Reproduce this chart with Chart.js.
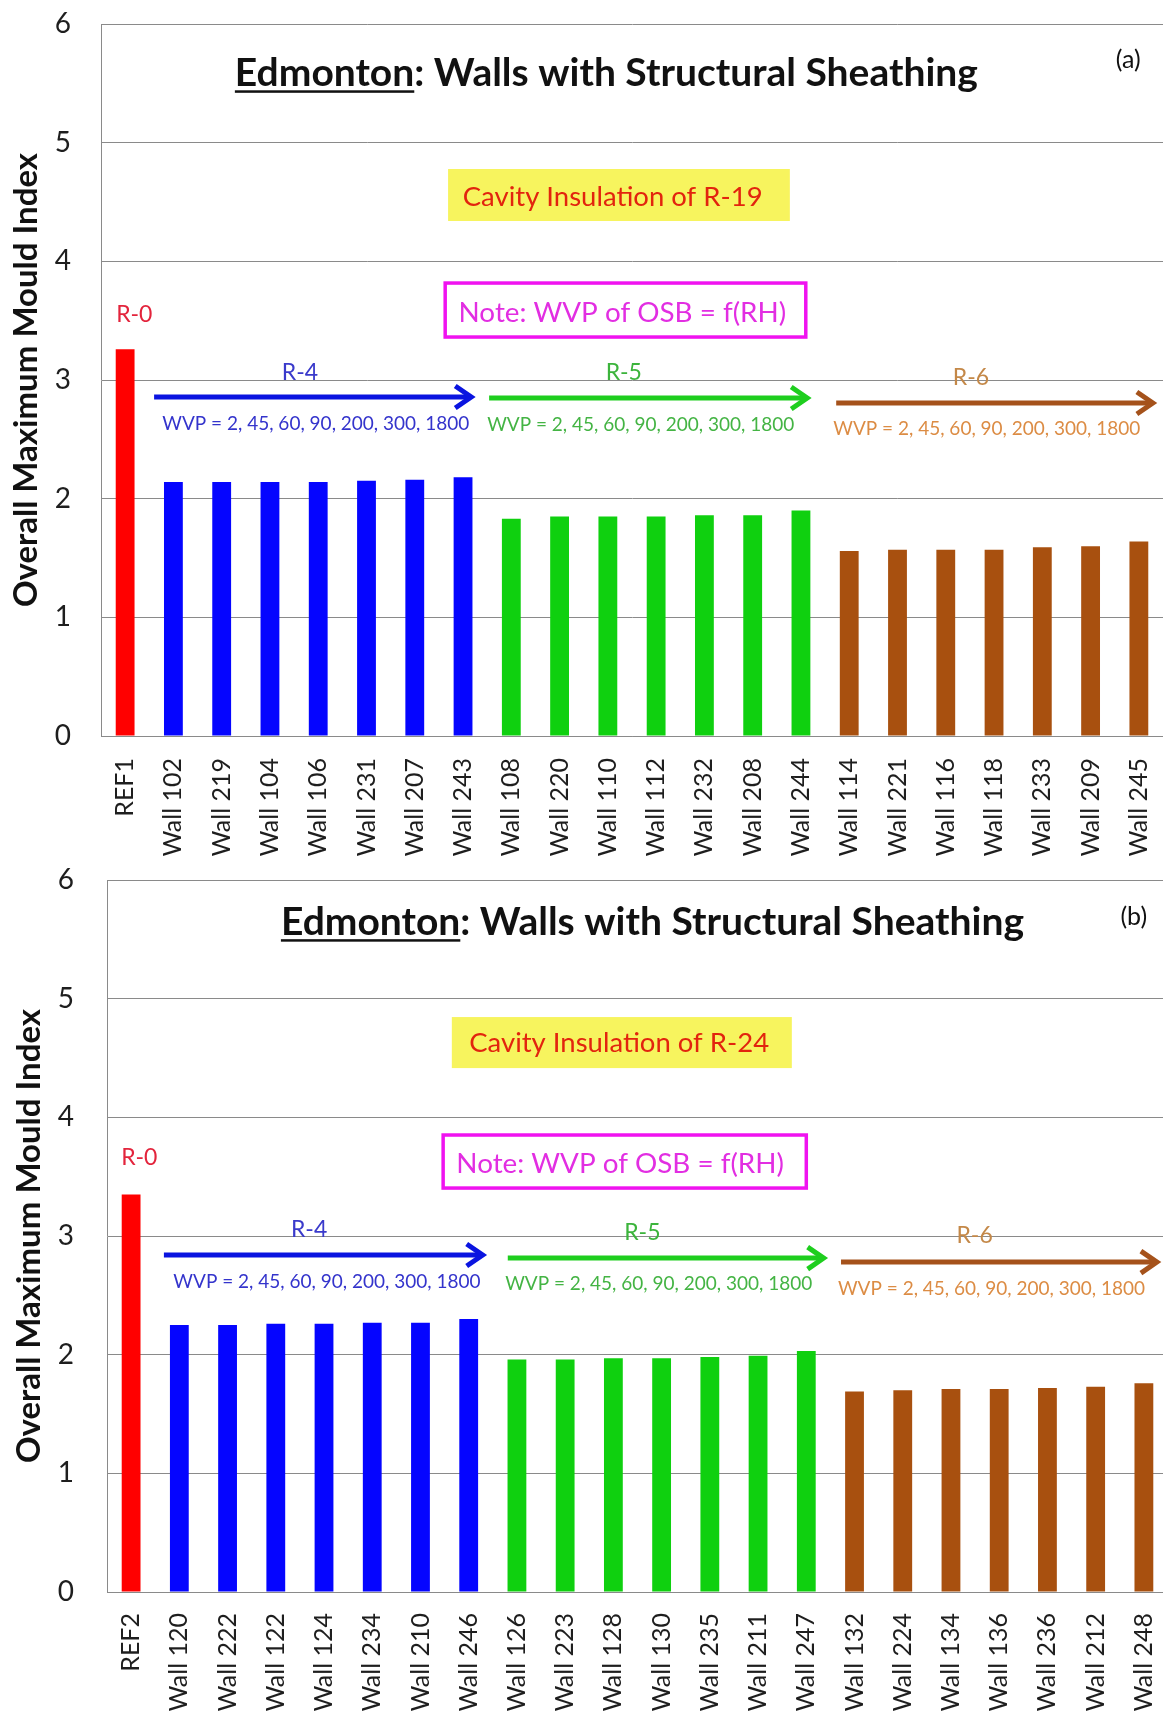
<!DOCTYPE html>
<html><head><meta charset="utf-8">
<script src="https://cdn.jsdelivr.net/npm/chart.js@4.4.0/dist/chart.umd.min.js"></script>
<style>
html,body{margin:0;padding:0;background:#fff;overflow:hidden;width:1163px;height:1713px;}
#wa{position:absolute;left:0;top:0;}
#wb{position:absolute;left:0;top:860px;}
canvas{display:block;}
</style></head><body>
<div id="wa"><canvas id="ca" width="1163" height="860"></canvas></div>
<div id="wb"><canvas id="cb" width="1170" height="853"></canvas></div>
<script>
// ---- data ----
const categoriesA = ['REF1','Wall 102','Wall 219','Wall 104','Wall 106','Wall 231','Wall 207','Wall 243','Wall 108','Wall 220','Wall 110','Wall 112','Wall 232','Wall 208','Wall 244','Wall 114','Wall 221','Wall 116','Wall 118','Wall 233','Wall 209','Wall 245'];
const valuesA = [3.26, 2.14, 2.14, 2.14, 2.14, 2.15, 2.16, 2.18, 1.83, 1.85, 1.85, 1.85, 1.86, 1.86, 1.90, 1.56, 1.57, 1.57, 1.57, 1.59, 1.60, 1.64];
const categoriesB = ['REF2','Wall 120','Wall 222','Wall 122','Wall 124','Wall 234','Wall 210','Wall 246','Wall 126','Wall 223','Wall 128','Wall 130','Wall 235','Wall 211','Wall 247','Wall 132','Wall 224','Wall 134','Wall 136','Wall 236','Wall 212','Wall 248'];
const valuesB = [3.35, 2.25, 2.25, 2.26, 2.26, 2.27, 2.27, 2.30, 1.96, 1.96, 1.97, 1.97, 1.98, 1.99, 2.03, 1.69, 1.70, 1.71, 1.71, 1.72, 1.73, 1.76];
const groupNames = ['R-0', 'R-4', 'R-5', 'R-6'];
const groupSizes = [1, 7, 7, 7];
const wvpText = 'WVP = 2, 45, 60, 90, 200, 300, 1800';
const yTickValues = [0, 1, 2, 3, 4, 5, 6];

// ---- styles ----
const barColors = ['#ff0000', '#0505ff', '#0fd00f', '#a8500f'];
const labelColors = ['#e3243c', '#3a3acb', '#3cb43c', '#c48848'];
const arrowColors = ['#ff0000', '#0a14e0', '#1ece1e', '#a5521b'];
const wvpColors = ['#ff0000', '#3434cc', '#44b444', '#dc8c44'];

function colorsFor(sizes) {
  const out = [];
  sizes.forEach((n, g) => { for (let i = 0; i < n; i++) out.push(barColors[g]); });
  return out;
}

function makeNotesPlugin(items) {
  return {
    id: 'notes',
    afterDatasetsDraw(chart) {
      const {ctx, scales: {x, y}} = chart;
      const X = v => x.getPixelForValue(v);
      const Y = v => y.getPixelForValue(v);
      ctx.save();
      for (const it of items) {
        if (it.type === 'box') {
          const x1 = X(it.x1), x2 = X(it.x2), y1 = Y(it.y1), y2 = Y(it.y2);
          if (it.bg) { ctx.fillStyle = it.bg; ctx.fillRect(x1, y1, x2 - x1, y2 - y1); }
          if (it.edge) { ctx.strokeStyle = it.edge; ctx.lineWidth = it.lw; ctx.strokeRect(x1, y1, x2 - x1, y2 - y1); }
        } else if (it.type === 'arrow') {
          const x1 = X(it.x1), x2 = X(it.x2), yy = Y(it.y);
          ctx.strokeStyle = it.ink; ctx.lineWidth = it.lw; ctx.lineCap = 'butt'; ctx.lineJoin = 'miter';
          ctx.beginPath(); ctx.moveTo(x1, yy); ctx.lineTo(x2 - 2, yy); ctx.stroke();
          ctx.beginPath(); ctx.moveTo(x2 - 16, yy - 11); ctx.lineTo(x2, yy); ctx.lineTo(x2 - 16, yy + 11); ctx.stroke();
        } else if (it.type === 'text') {
          ctx.font = it.font; ctx.fillStyle = it.ink; ctx.textAlign = 'center'; ctx.textBaseline = 'alphabetic';
          ctx.fillText(it.text, X(it.x), Y(it.y));
        } else if (it.type === 'title') {
          ctx.font = it.font; ctx.fillStyle = it.ink; ctx.textAlign = 'left'; ctx.textBaseline = 'alphabetic';
          const full = it.under + it.rest;
          const w = ctx.measureText(full).width;
          const uw = ctx.measureText(it.under).width;
          const sx = X(it.x) - w / 2, by = Y(it.y);
          ctx.fillText(full, sx, by);
          ctx.fillRect(sx, by + 4, uw, 2.5);
        }
      }
      ctx.restore();
    }
  };
}

function notesFor(p, cavity) {
  return [
    {type: 'title', x: p.title[0], y: p.title[1], under: 'Edmonton', rest: ': Walls with Structural Sheathing', font: 'bold 39px Lato', ink: '#111'},
    {type: 'text', x: p.tag[0], y: p.tag[1], text: p.tagText, font: '25px Lato', ink: '#111'},
    {type: 'box', x1: p.ybox[0], x2: p.ybox[1], y1: p.ybox[2], y2: p.ybox[3], bg: '#f7f45e'},
    {type: 'text', x: p.ytext[0], y: p.ytext[1], text: cavity, font: '27.5px Lato', ink: '#e2240e'},
    {type: 'box', x1: p.mbox[0], x2: p.mbox[1], y1: p.mbox[2], y2: p.mbox[3], edge: '#f012f0', lw: 3.5},
    {type: 'text', x: p.mtext[0], y: p.mtext[1], text: 'Note: WVP of OSB = f(RH)', font: '27.8px Lato', ink: '#e22ee2'},
    {type: 'text', x: p.r0[0], y: p.r0[1], text: groupNames[0], font: '23px Lato', ink: labelColors[0]},
    ...[1, 2, 3].flatMap(g => [
      {type: 'text', x: p.rl[g][0], y: p.rl[g][1], text: groupNames[g], font: '23px Lato', ink: labelColors[g]},
      {type: 'arrow', x1: p.ar[g][0], x2: p.ar[g][1], y: p.ar[g][2], ink: arrowColors[g], lw: 5},
      {type: 'text', x: p.wv[g][0], y: p.wv[g][1], text: wvpText, font: '19px Lato', ink: wvpColors[g]}
    ])
  ];
}

const posA = {
  title: [9.97, 5.475], tag: [20.78, 5.63], tagText: '(a)',
  ybox: [6.69, 13.77, 4.778, 4.34], ytext: [10.1, 4.466],
  mbox: [6.63, 14.10, 3.817, 3.362], mtext: [10.30, 3.489],
  r0: [0.19, 3.489],
  rl: [null, [3.62, 3.0], [10.33, 3.0], [17.52, 2.958]],
  ar: [null, [0.60, 7.17, 2.857], [7.54, 14.13, 2.848], [14.73, 21.29, 2.806]],
  wv: [null, [3.95, 2.579], [10.68, 2.57], [17.85, 2.536]]
};
const posB = {
  title: [10.81, 5.535], tag: [20.79, 5.62], tagText: '(b)',
  ybox: [6.65, 13.70, 4.845, 4.415], ytext: [10.12, 4.55],
  mbox: [6.47, 14.0, 3.851, 3.404], mtext: [10.14, 3.531],
  r0: [0.17, 3.6],
  rl: [null, [3.69, 2.99], [10.6, 2.966], [17.49, 2.94]],
  ar: [null, [0.68, 7.29, 2.84], [7.81, 14.36, 2.814], [14.72, 21.27, 2.78]],
  wv: [null, [4.06, 2.56], [10.94, 2.544], [17.84, 2.50]]
};

function makeChart(id, cats, vals, notes, geo) {
  return new Chart(document.getElementById(id), {
    type: 'bar',
    data: {
      labels: cats,
      datasets: [{data: vals, backgroundColor: colorsFor(groupSizes), borderWidth: 0,
        categoryPercentage: 1.0, barPercentage: 0.39}]
    },
    options: {
      responsive: false, animation: false,
      layout: {padding: {top: geo.top, left: 0, right: geo.right, bottom: 0}},
      plugins: {legend: {display: false}, tooltip: {enabled: false}},
      scales: {
        x: {
          grid: {display: false, drawTicks: false},
          border: {display: true, color: '#8a8a8a', width: 1},
          ticks: {maxRotation: 90, minRotation: 90, autoSkip: false, padding: geo.xpad,
            color: '#1e1e1e', font: {family: 'Lato', size: 25}},
          afterFit: s => { s.height = geo.xh; s.paddingLeft = 0; s.paddingRight = 0; }
        },
        y: {
          min: 0, max: 6,
          afterBuildTicks: s => { s.ticks = yTickValues.map(v => ({value: v})); },
          grid: {color: '#8a8a8a', lineWidth: 1, drawTicks: false},
          border: {display: true, color: '#8a8a8a', width: 1},
          ticks: {padding: geo.ypad, color: '#1e1e1e', font: {family: 'Lato', size: 28}},
          title: {display: true, text: 'Overall Maximum Mould Index', color: '#111',
            font: {family: 'Lato', size: 33, weight: 'bold'}, padding: {top: geo.tpad, bottom: 0}},
          afterFit: s => { s.width = geo.yw; s.paddingTop = 0; s.paddingBottom = 0; }
        }
      }
    },
    plugins: [makeNotesPlugin(notes)]
  });
}

makeChart('ca', categoriesA, valuesA, notesFor(posA, 'Cavity Insulation of R-19'),
  {top: 24, right: 0, xh: 124, xpad: 22, ypad: 30, yw: 101, tpad: 7});
makeChart('cb', categoriesB, valuesB, notesFor(posB, 'Cavity Insulation of R-24'),
  {top: 20, right: 2, xh: 121, xpad: 21, ypad: 33, yw: 107, tpad: 10});
</script>
</body></html>
